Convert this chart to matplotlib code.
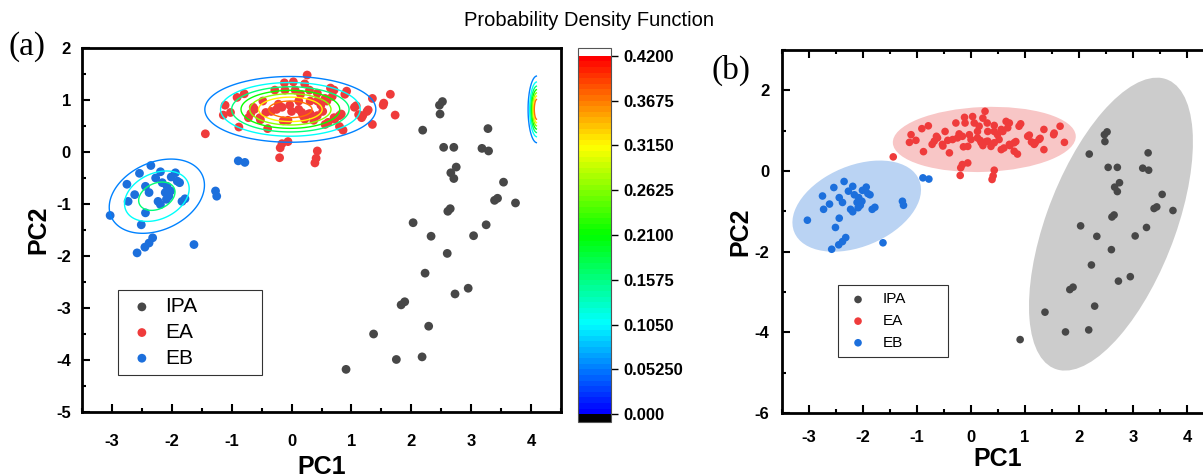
import numpy as np
import matplotlib
matplotlib.use("Agg")
import matplotlib.pyplot as plt
from matplotlib.colors import LinearSegmentedColormap, Normalize
from matplotlib.patches import Ellipse
from matplotlib.ticker import MultipleLocator
import matplotlib.cm as cm

plt.rcParams['font.family'] = ['Liberation Sans', 'DejaVu Sans']
plt.rcParams['axes.unicode_minus'] = False

# --- PCA scores ---
ipa_x = [2.47, 2.52, 2.48, 2.19, 3.28, 2.54, 2.71, 3.18, 3.29, 2.75, 2.66, 2.71, 3.54,
         3.39, 3.44, 3.74, 2.61, 2.65, 2.03, 2.33, 3.25, 3.04, 2.60, 2.23, 2.73, 2.95,
         1.83, 1.89, 2.29, 1.37, 1.75, 2.18, 0.91]
ipa_y = [0.90, 0.97, 0.73, 0.42, 0.45, 0.09, 0.09, 0.07, 0.02, -0.29, -0.40, -0.51, -0.58,
         -0.93, -0.89, -0.98, -1.14, -1.09, -1.36, -1.62, -1.40, -1.61, -1.95, -2.33, -2.73, -2.62,
         -2.94, -2.88, -3.35, -3.50, -3.99, -3.94, -4.18]

ea_x = [-1.44, -1.14, -1.11, -0.88, -0.91, -0.79, -0.68, -0.62, -0.48, -0.52, -0.40, -0.43,
        -0.34, -0.25, -0.28, -0.16, -0.12, -0.11, -0.06, -0.03, 0.00, 0.03, 0.06, 0.12,
        0.12, 0.15, 0.19, 0.22, 0.26, 0.30, 0.31, 0.31, 0.37, 0.43, 0.43, 0.43, 0.49,
        0.52, 0.56, 0.56, 0.59, 0.65, 0.68, 0.71, 0.71, 0.80, 0.80, 0.86, 0.89, 1.05,
        1.12, 1.17, 1.26, 1.35, 1.35, 1.53, 1.65, 1.73, -0.19, -0.16, -0.06, -0.20,
        0.43, 0.41, 0.39, -0.64, -0.72, -0.53, -0.22, -0.14, 0.17, 0.28, 0.22, 0.61,
        0.83, 0.72, 1.08, 1.19, 1.28, 0.92, 1.54, -1.02]
ea_y = [0.35, 0.71, 0.90, 0.48, 1.05, 1.12, 0.74, 0.82, 0.98, 0.62, 0.45, 0.76,
        0.78, 0.82, 1.19, 0.86, 1.33, 1.19, 0.61, 0.90, 0.78, 1.35, 1.19, 0.82,
        0.98, 1.11, 0.70, 1.31, 1.48, 1.19, 0.74, 0.98, 0.61, 1.13, 0.98, 0.70, 0.90,
        0.78, 1.03, 0.53, 0.98, 1.23, 1.07, 1.19, 0.66, 0.70, 0.49, 0.42, 1.11, 0.86,
        0.72, 0.66, 0.78, 1.03, 0.53, 0.90, 1.11, 0.71, 0.08, 0.16, 0.20, -0.11,
        0.02, -0.12, -0.21, 0.86, 0.66, 0.66, 0.92, 0.60, 0.76, 0.73, 0.63, 0.57,
        0.73, 0.63, 0.89, 0.70, 0.81, 1.17, 0.94, 0.76]

eb_x = [-2.35, -2.54, -2.19, -1.94, -2.01, -2.75, -2.44, -2.16, -1.87, -2.08, -2.62, -2.38,
        -2.11, -2.02, -2.73, -2.23, -2.09, -1.83, -1.78, -2.44, -3.03, -2.51, -2.32, -2.38,
        -2.45, -2.58, -1.63, -1.27, -1.25, -0.89, -0.78, -2.27, -1.91, -2.19, -2.05]
eb_y = [-0.26, -0.41, -0.38, -0.40, -0.48, -0.62, -0.66, -0.59, -0.59, -0.66, -0.82, -0.78,
        -0.78, -0.75, -0.95, -0.95, -0.91, -0.95, -0.90, -1.17, -1.22, -1.40, -1.65, -1.75,
        -1.83, -1.94, -1.78, -0.75, -0.85, -0.17, -0.20, -0.50, -0.56, -1.01, -0.85]

groups = ['IPA', 'EA', 'EB']
colors = ['#474747', '#ef3b3b', '#1c6fdc']
fills = ['#cccccc', '#f8c6c6', '#bad3f3']

# density surfaces in panel (a): centre, sigmas, angle, peak
pdf_centers = [(-0.02, 0.82), (-2.25, -0.85), (4.10, 0.82)]
pdf_sigmas = [(0.70, 0.31), (0.54, 0.39), (0.072, 0.31)]
pdf_angles = [0, 35, 0]
pdf_peaks = [0.42, 0.19, 0.45]
pdf_levels = [0.0525, 0.105, 0.1575, 0.21, 0.2625, 0.315, 0.3675]
cbar_ticks = [0, 0.0525, 0.105, 0.1575, 0.21, 0.2625, 0.315, 0.3675, 0.42]
cbar_labels = ['0.000', '0.05250', '0.1050', '0.1575', '0.2100', '0.2625', '0.3150', '0.3675', '0.4200']

cmap = LinearSegmentedColormap.from_list('pdf', ['#0000ff', '#00ffff', '#00ff00', '#ffff00', '#ff0000']).resampled(64)
cmap.set_over('white')
cmap.set_under('black')
norm = Normalize(0, 0.42)

fig = plt.figure(figsize=(12.03, 4.75), dpi=100)
ax1 = fig.add_axes([82/1203, 63/475, 479/1203, 364/475])
cax = fig.add_axes([578/1203, 53/475, 33/1203, 374/475])
ax2 = fig.add_axes([782/1203, 62/475, 432/1203, 363/475])

data = [(ipa_x, ipa_y), (ea_x, ea_y), (eb_x, eb_y)]

# ---- panel (a) ----
gx, gy = np.meshgrid(np.linspace(-3.5, 4.10, 500), np.linspace(-5, 2, 400))
Z = np.zeros_like(gx)
for (cx, cy), (sa, sb), ang, pk in zip(pdf_centers, pdf_sigmas, pdf_angles, pdf_peaks):
    t = np.deg2rad(ang)
    u = (gx - cx) * np.cos(t) + (gy - cy) * np.sin(t)
    v = -(gx - cx) * np.sin(t) + (gy - cy) * np.cos(t)
    Z += pk * np.exp(-0.5 * ((u / sa) ** 2 + (v / sb) ** 2))
ax1.contour(gx, gy, Z, levels=pdf_levels, cmap=cmap, norm=norm, linewidths=1.0, zorder=3)

for (x, y), c, g in zip(data, colors, groups):
    ax1.scatter(x, y, s=40, color=c, edgecolors='none', label=g, zorder=2)

ax1.set_xlim(-3.5, 4.5)
ax1.set_ylim(-5, 2)
ax1.xaxis.set_major_locator(MultipleLocator(1))
ax1.xaxis.set_minor_locator(MultipleLocator(0.5))
ax1.yaxis.set_major_locator(MultipleLocator(1))
ax1.yaxis.set_minor_locator(MultipleLocator(0.5))
ax1.tick_params(which='major', direction='in', length=6, width=1.5, labelsize=12)
ax1.tick_params(which='minor', direction='in', length=3, width=1.5)
ax1.tick_params(axis='x', which='major', pad=16)
ax1.tick_params(axis='y', which='major', pad=8)
for s in ax1.spines.values():
    s.set_linewidth(2)
ax1.set_xlabel('PC1', fontsize=18, fontweight='bold', labelpad=4)
ax1.set_ylabel('PC2', fontsize=18, fontweight='bold', labelpad=4)
leg1 = ax1.legend(loc='upper left', bbox_to_anchor=(0.075, 0.335, 0.30, 0.0), mode='expand',
                  borderaxespad=0, fontsize=15, frameon=True, fancybox=False, edgecolor='black',
                  handletextpad=0.3, labelspacing=0.32, borderpad=0.35, handlelength=1.6)
leg1.get_frame().set_linewidth(0.8)

# colorbar
sm = cm.ScalarMappable(norm=norm, cmap=cmap)
cb = fig.colorbar(sm, cax=cax, extend='both', extendrect=True, extendfrac=0.022,
                  ticks=cbar_ticks)
cb.ax.set_yticklabels(cbar_labels)
cb.ax.tick_params(direction='out', length=5, width=1, labelsize=12, pad=4)
cb.outline.set_linewidth(0.8)
cb.outline.set_edgecolor('#555555')
fig.text(589/1203, 1 - 20/475, 'Probability Density Function', ha='center', va='center', fontsize=14.5)

# ---- panel (b) ----
for (x, y), f in zip(data, fills):
    x = np.asarray(x); y = np.asarray(y)
    cov = np.cov(x, y)
    vals, vecs = np.linalg.eigh(cov)
    ang = np.degrees(np.arctan2(vecs[1, 1], vecs[0, 1]))
    k = 2.4
    ax2.add_patch(Ellipse((x.mean(), y.mean()), 2 * k * np.sqrt(vals[1]), 2 * k * np.sqrt(vals[0]),
                          angle=ang, facecolor=f, edgecolor='none', zorder=1))
for (x, y), c, g in zip(data, colors, groups):
    ax2.scatter(x, y, s=30, color=c, edgecolors='none', label=g, zorder=2)

ax2.set_xlim(-3.5, 4.5)
ax2.set_ylim(-6, 3)
ax2.xaxis.set_major_locator(MultipleLocator(1))
ax2.xaxis.set_minor_locator(MultipleLocator(0.5))
ax2.yaxis.set_major_locator(MultipleLocator(2))
ax2.yaxis.set_minor_locator(MultipleLocator(1))
ax2.tick_params(which='major', direction='in', length=6, width=1.5, labelsize=12, top=True)
ax2.tick_params(which='minor', direction='in', length=3, width=1.5, top=True)
ax2.tick_params(axis='x', which='major', pad=12)
ax2.tick_params(axis='y', which='major', pad=9)
for s in ax2.spines.values():
    s.set_linewidth(2)
ax2.set_xlabel('PC1', fontsize=18, fontweight='bold', labelpad=2)
ax2.set_ylabel('PC2', fontsize=18, fontweight='bold', labelpad=2)
leg2 = ax2.legend(loc='upper left', bbox_to_anchor=(0.13, 0.353, 0.255, 0.0), mode='expand',
                  borderaxespad=0, fontsize=11, frameon=True, fancybox=False, edgecolor='black',
                  handletextpad=0.8, labelspacing=0.5, borderpad=0.5, handlelength=1.6)
leg2.get_frame().set_linewidth(0.8)

for a in (ax1, ax2, cb.ax):
    for lab in a.get_xticklabels() + a.get_yticklabels():
        lab.set_fontweight('bold')

fig.text(9/1203, 1 - 47/475, '(a)', fontsize=24, family='Liberation Serif', va='center')
fig.text(711/1203, 1 - 70/475, '(b)', fontsize=24, family='Liberation Serif', va='center')

fig.savefig('out.png', dpi=100)
